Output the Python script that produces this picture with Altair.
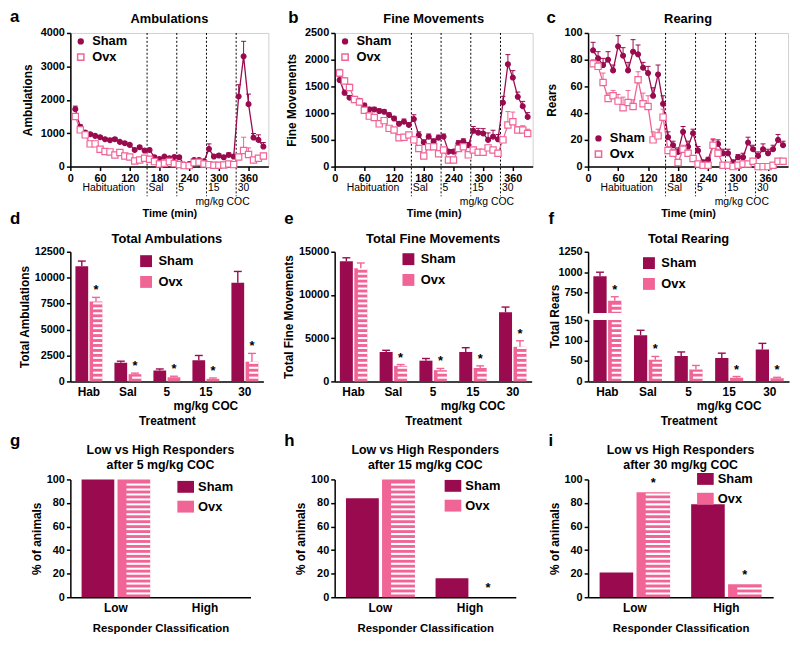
import altair as alt
import pandas as pd

SHAM_C = "#990a4e"
OVX_C = "#f06496"
FONT = "Liberation Sans"
GROUPS = ["Sham", "Ovx"]

# ---------------- time course data (10-min bins) ----------------
time_min = [10, 20, 30, 40, 50, 60, 70, 80, 90, 100, 110, 120, 130, 140, 150,
            160, 170, 180, 190, 200, 210, 220, 230, 240, 250, 260, 270,
            280, 290, 300, 310, 320, 330, 340, 350, 360, 370, 380, 390]
phase_bounds = [155, 215, 275, 335]
phase_labels = ["Habituation", "Sal", "5", "15", "30"]

amb_sham = [1720, 1190, 1020, 970, 920, 880, 820, 790, 820, 740, 700, 650, 500, 580, 480,
            500, 280, 230, 300, 250, 290, 280, 60, 80, 200, 200, 160,
            530, 300, 330, 280, 350, 300, 2100, 3300, 1870, 870, 800, 600]
amb_sham_err = [90, 60, 50, 50, 50, 40, 40, 40, 50, 40, 40, 40, 40, 50, 40,
                40, 40, 30, 30, 30, 30, 30, 20, 20, 30, 30, 30,
                150, 60, 50, 50, 60, 50, 350, 450, 300, 120, 150, 120]
amb_ovx = [1500, 1100, 950, 680, 680, 520, 450, 440, 350, 420, 320, 290, 170, 200, 250,
           220, 150, 80, 100, 150, 90, 60, 30, 30, 120, 130, 80,
           60, 40, 40, 50, 80, 60, 290, 480, 360, 200, 250, 320]
amb_ovx_err = [80, 60, 50, 40, 40, 40, 40, 40, 40, 40, 40, 40, 30, 30, 30,
               30, 30, 20, 20, 20, 20, 20, 10, 10, 20, 20, 20,
               20, 10, 10, 10, 20, 20, 80, 400, 200, 60, 70, 80]

fine_sham = [1620, 1380, 1290, 1260, 1230, 1145, 1070, 1070, 1040, 1025, 965, 900, 800, 840, 780,
             890, 590, 455, 560, 470, 540, 560, 280, 280, 435, 470, 400,
             670, 635, 620, 500, 560, 510, 1195, 1915, 1665, 1305, 1130, 930]
fine_sham_err = [60, 50, 40, 40, 40, 40, 40, 40, 40, 40, 40, 40, 40, 50, 40,
                 80, 60, 40, 50, 50, 50, 50, 40, 40, 50, 50, 50,
                 80, 80, 90, 130, 120, 90, 120, 180, 130, 90, 90, 80]
fine_ovx = [1750, 1600, 1480, 1255, 1210, 1055, 945, 920, 800, 860, 715, 685, 540, 550, 590,
            500, 340, 200, 370, 370, 240, 310, 125, 125, 340, 370, 220,
            310, 270, 270, 350, 310, 250, 500, 780, 840, 685, 685, 620]
fine_ovx_err = [70, 60, 60, 50, 50, 50, 40, 40, 40, 40, 40, 40, 40, 40, 40,
                40, 30, 30, 30, 30, 30, 30, 20, 20, 30, 30, 30,
                50, 40, 40, 50, 40, 40, 60, 250, 180, 60, 80, 80]

rear_sham = [87, 81, 76, 80, 72, 90, 83, 72, 86, 84, 74, 70, 53, 69, 47,
             22, 16, 11, 26, 15, 25, 12, 3, 5, 16, 17, 10,
             10, 3, 7, 7, 18, 13, 8, 13, 10, 13, 20, 16]
rear_sham_err = [6, 5, 5, 6, 4, 8, 6, 6, 9, 7, 4, 5, 6, 7, 6,
                 4, 3, 3, 4, 4, 3, 3, 2, 2, 4, 3, 3,
                 3, 2, 2, 3, 4, 3, 3, 4, 3, 3, 4, 3]
rear_ovx = [77, 75, 63, 51, 53, 49, 44, 48, 45, 65, 47, 45, 20, 23, 37,
            12, 10, 3, 13, 10, 6, 2, 1, 1, 16, 10, 1,
            1, 0, 1, 2, 2, 4, 0, 0, 0, 1, 4, 4]
rear_ovx_err = [3, 3, 7, 4, 4, 5, 8, 9, 5, 6, 8, 8, 6, 5, 6,
                3, 3, 2, 3, 3, 2, 1, 1, 1, 5, 3, 1,
                1, 1, 1, 1, 1, 1, 1, 1, 1, 1, 1, 1]

# ---------------- totals ----------------
treatments = ["Hab", "Sal", "5", "15", "30"]
tot_amb_sham = [11100, 1800, 1050, 2050, 9500]
tot_amb_sham_err = [500, 150, 150, 450, 1100]
tot_amb_ovx = [7700, 700, 400, 250, 1900]
tot_amb_ovx_err = [400, 100, 100, 80, 800]
tot_amb_star = [True, True, True, True, True]

tot_fine_sham = [13900, 3400, 2400, 3400, 8000]
tot_fine_sham_err = [400, 200, 250, 500, 600]
tot_fine_ovx = [13100, 1800, 1300, 1550, 4000]
tot_fine_ovx_err = [600, 150, 200, 250, 700]
tot_fine_star = [False, True, True, True, True]

tot_rear_sham = [950, 113, 62, 57, 78]
tot_rear_sham_err = [50, 12, 10, 12, 15]
tot_rear_ovx = [650, 53, 29, 9, 8]
tot_rear_ovx_err = [50, 8, 10, 3, 2]
tot_rear_star = [True, True, False, True, True]

# ---------------- responders ----------------
resp_classes = ["Low", "High"]
resp5_sham = [100, 0]
resp5_ovx = [100, 0]
resp5_star = [False, False]
resp15_sham = [84, 16]
resp15_ovx = [100, 0]
resp15_star = [False, True]
resp30_sham = [21, 79]
resp30_ovx = [89, 11]
resp30_star = [True, True]

STRIPE_PX = 5.0
LETTER_SIZE = 17


def ax(quant=True, **kw):
    base = dict(labelFont=FONT, labelFontWeight="bold", labelFontSize=11, labelColor="black",
                titleFont=FONT, titleFontWeight="bold", titleFontSize=12, titleColor="black",
                domainColor="black", domainWidth=1.5, tickColor="black", tickWidth=1.5,
                tickSize=4, grid=False, labelPadding=2, labelOverlap=False, labelBound=False,
                labelFlush=False)
    if quant:
        base["format"] = "d"
    base.update(kw)
    return alt.Axis(**base)


def text_layer(txt, x, y, size=13, weight="bold", align="left"):
    return alt.Chart(pd.DataFrame({"txt": [txt]})).mark_text(
        font=FONT, fontSize=size, fontWeight=weight, align=align, baseline="alphabetic",
        color="black").encode(text="txt:N", x=alt.value(x), y=alt.value(y))


def letter_layer(letter, x, y):
    return text_layer(letter, x, y, size=LETTER_SIZE)


def indep(c):
    return c.resolve_scale(color="independent", stroke="independent", fill="independent",
                           shape="independent", size="independent", xOffset="independent"
                           ).resolve_legend(color="independent", stroke="independent",
                                            fill="independent", shape="independent",
                                            size="independent")


def line_panel(letter, lx, ly, ttl, ytitle, sham, sham_err, ovx, ovx_err, ymax, ystep,
               legend_y, width=200, height=135):
    rows = []
    for g, vals, errs in (("Sham", sham, sham_err), ("Ovx", ovx, ovx_err)):
        for t, v, e in zip(time_min, vals, errs):
            rows.append({"time": t, "group": g, "value": v, "top": v + e})
    df = pd.DataFrame(rows)
    xs = alt.Scale(domain=[0, 400], nice=False)
    xaxis = ax(values=[0, 60, 120, 180, 240, 300, 360], title="Time (min)",
               titlePadding=24, titleFontSize=11)
    yaxis = ax(values=list(range(0, ymax + 1, ystep)), title=ytitle, titlePadding=6)
    ysc = alt.Scale(domain=[0, ymax], nice=False)
    X = alt.X("time:Q", scale=xs, axis=xaxis)
    Y = alt.Y("value:Q", scale=ysc, axis=yaxis)
    leg = alt.Legend(title=None, orient="none", legendX=4, legendY=legend_y,
                     labelFont=FONT, labelFontSize=13, labelFontWeight="bold",
                     labelColor="black", symbolStrokeWidth=1.5, rowPadding=2, labelOffset=5)
    stroke = alt.Stroke("group:N", scale=alt.Scale(domain=GROUPS, range=[SHAM_C, OVX_C]),
                        legend=leg)
    base = alt.Chart(df)
    dashed = alt.Chart(pd.DataFrame({"time": phase_bounds})).mark_rule(
        color="black", strokeWidth=1, strokeDash=[2, 2]).encode(
        x=X, y=alt.value(0), y2=alt.value(height + 30))
    line = base.mark_line(strokeWidth=1.3).encode(x=X, y=Y, stroke=stroke)
    err = base.mark_rule(strokeWidth=1).encode(x=X, y=Y, y2="top:Q", stroke=stroke)
    caps = base.mark_point(shape="M-1,0L1,0", size=25, strokeWidth=1, opacity=1).encode(
        x=X, y=alt.Y("top:Q", scale=ysc, axis=yaxis), stroke=stroke)
    pts = base.mark_point(filled=True, strokeWidth=1.2, opacity=1).encode(
        x=X, y=Y, stroke=stroke,
        fill=alt.Fill("group:N", scale=alt.Scale(domain=GROUPS, range=[SHAM_C, "white"]),
                      legend=leg),
        shape=alt.Shape("group:N", scale=alt.Scale(domain=GROUPS, range=["circle", "square"]),
                        legend=leg),
        size=alt.Size("group:N", scale=alt.Scale(domain=GROUPS, range=[24, 40]), legend=leg))
    hab_center = phase_bounds[0] / 2
    lab_df = pd.DataFrame({"time": [hab_center] + [bd + 3 for bd in phase_bounds],
                           "label": phase_labels})
    t1 = alt.Chart(lab_df.iloc[:1]).mark_text(font=FONT, fontSize=10.5, align="center",
                                              baseline="middle", color="black").encode(
        x=X, y=alt.value(height + 22), text="label:N")
    t2 = alt.Chart(lab_df.iloc[1:]).mark_text(font=FONT, fontSize=10.5, align="left",
                                              baseline="middle", color="black").encode(
        x=X, y=alt.value(height + 22), text="label:N")
    mg = alt.Chart(pd.DataFrame({"time": [(phase_bounds[1] + 400) / 2],
                                 "label": ["mg/kg COC"]})).mark_text(
        font=FONT, fontSize=10.5, align="center", baseline="middle", color="black").encode(
        x=X, y=alt.value(height + 36), text="label:N")
    return alt.layer(dashed, line, err, caps, pts, t1, t2, mg,
                     text_layer(ttl, width / 2, -10, align="center"),
                     letter_layer(letter, lx, ly)).properties(
        width=width, height=height, view=alt.ViewBackground(stroke="#cfcfcf", strokeWidth=1))


def bar_frame(cats, sham, sham_err, ovx, ovx_err, stars):
    rows = []
    for cc, v, e in zip(cats, sham, sham_err):
        rows.append({"cat": cc, "group": "Sham", "value": v, "top": v + e, "star": False})
    for cc, v, e, s in zip(cats, ovx, ovx_err, stars):
        rows.append({"cat": cc, "group": "Ovx", "value": v, "top": v + e, "star": s})
    return pd.DataFrame(rows)


def bar_layers(df, cats, ydom, yvals, ytitle, height, legend, xaxis, clip,
               err_filter, star_filter, pi, po, opi, ytitle_kw=None, star_dy=-3,
               cap_size=64, with_err=True):
    period = STRIPE_PX * (ydom[1] - ydom[0]) / height
    X = alt.X("cat:N", scale=alt.Scale(domain=cats, paddingInner=pi, paddingOuter=po),
              axis=xaxis)
    XO = alt.XOffset("group:N", scale=alt.Scale(domain=GROUPS, paddingInner=opi))
    if ytitle is not None:
        yax = ax(values=yvals, title=ytitle, titlePadding=3, **(ytitle_kw or {}))
    else:
        yax = ax(values=yvals, title=None)
    ysc = alt.Scale(domain=ydom, nice=False, zero=False)
    Y = alt.Y("value:Q", scale=ysc, axis=yax, stack=None)
    color = alt.Color("group:N", scale=alt.Scale(domain=GROUPS, range=[SHAM_C, OVX_C]),
                      legend=legend)
    strk = alt.Stroke("group:N", scale=alt.Scale(domain=GROUPS, range=[SHAM_C, OVX_C]),
                      legend=None)
    base = alt.Chart(df)
    bars = base.mark_bar(clip=clip).encode(x=X, xOffset=XO, y=Y, color=color)
    stripes = alt.Chart(df[df["group"] == "Ovx"]).transform_calculate(
        s=f"sequence({period * 0.55}, datum.value - {period * 0.3}, {period})"
    ).transform_flatten(["s"]).transform_calculate(
        s2=f"datum.s + {period * 0.42}"
    ).mark_bar(color="white", clip=clip, width={"band": 0.74}).encode(
        x=X, xOffset=XO, y=alt.Y("s:Q", scale=ysc, axis=yax), y2="s2:Q")
    layers = [bars, stripes]
    if with_err:
        err = base.transform_filter(err_filter).mark_rule(strokeWidth=1.4).encode(
            x=X, xOffset=XO, y=Y, y2="top:Q", stroke=strk)
        caps = base.transform_filter(err_filter).mark_point(
            shape="M-1,0L1,0", size=cap_size, strokeWidth=1.4, opacity=1).encode(
            x=X, xOffset=XO, y=alt.Y("top:Q", scale=ysc, axis=yax), stroke=strk)
        layers += [err, caps]
    stars = base.transform_filter(star_filter).mark_text(
        text="*", font=FONT, fontSize=13, fontWeight="bold", baseline="alphabetic",
        dy=star_dy, color="black").encode(x=X, xOffset=XO,
                                          y=alt.Y("top:Q", scale=ysc, axis=yax))
    layers.append(stars)
    return layers


def bar_legend(lx, ly):
    return alt.Legend(title=None, orient="none", legendX=lx, legendY=ly, symbolType="square",
                      symbolSize=144, symbolStrokeWidth=0, labelFont=FONT, labelFontSize=13,
                      labelFontWeight="bold", labelColor="black", rowPadding=7, labelOffset=6)


def treat_xaxis():
    return ax(quant=False, title="Treatment", labelAngle=0, ticks=False, labelFontSize=12,
              labelPadding=5, titlePadding=19)


def mg_note(height, X):
    return alt.Chart(pd.DataFrame({"cat": ["15"], "label": ["mg/kg COC"]})).mark_text(
        font=FONT, fontSize=12, fontWeight="bold", align="center", baseline="middle",
        color="black").encode(x=X, y=alt.value(height + 25), text="label:N")


def treat_x(xaxis):
    return alt.X("cat:N", scale=alt.Scale(domain=treatments, paddingInner=0.31,
                                          paddingOuter=0.13), axis=xaxis)


def total_panel(ttl, ytitle, sham, sham_err, ovx, ovx_err, stars, ymax,
                ystep, lgx, lgy, width, height=131):
    df = bar_frame(treatments, sham, sham_err, ovx, ovx_err, stars)
    xaxis = treat_xaxis()
    layers = bar_layers(df, treatments, [0, ymax], list(range(0, ymax + 1, ystep)), ytitle,
                        height, bar_legend(lgx, lgy), xaxis, False, "true",
                        "datum.star", 0.31, 0.13, 0.1)
    layers += [mg_note(height, treat_x(xaxis)), text_layer(ttl, width / 2, -9, align="center")]
    return alt.layer(*layers).properties(width=width, height=height)


def rear_panel(width=203):
    df = bar_frame(treatments, tot_rear_sham, tot_rear_sham_err, tot_rear_ovx,
                   tot_rear_ovx_err, tot_rear_star)
    top_layers = bar_layers(df, treatments, [500, 1250], [750, 1000, 1250], None, 62,
                            bar_legend(55, 5), None, True, "datum.value > 150",
                            "datum.star && datum.top > 150", 0.31, 0.13, 0.1)
    top_layers += [text_layer("Total Rearing", width / 2, -9, align="center")]
    top = alt.layer(*top_layers).properties(width=width, height=62)
    xaxis = treat_xaxis()
    bot_layers = bar_layers(df, treatments, [0, 150], [0, 50, 100, 150], "Total Rears", 62,
                            None, xaxis, True, "datum.top <= 150",
                            "datum.star && datum.top <= 150", 0.31, 0.13, 0.1,
                            ytitle_kw={"titleY": -4})
    bot_layers.append(mg_note(62, treat_x(xaxis)))
    bot = alt.layer(*bot_layers).properties(width=width, height=62)
    return indep(alt.vconcat(top, bot, spacing=7, bounds="flush"))


def resp_panel(letter, lx, ly, dose, sham, ovx, stars, lgx, lgy, width, height=119):
    df = bar_frame(resp_classes, sham, [0, 0], ovx, [0, 0], stars)
    leg = alt.Legend(title=None, orient="none", legendX=lgx, legendY=lgy,
                     symbolType="M-1.4,-1L1.4,-1L1.4,1L-1.4,1Z", symbolSize=144,
                     symbolStrokeWidth=0, labelFont=FONT, labelFontSize=13,
                     labelFontWeight="bold", labelColor="black", rowPadding=6, labelOffset=6)
    xaxis = ax(quant=False, title="Responder Classification", labelAngle=0, ticks=False,
               labelFontSize=12, labelPadding=5, titlePadding=10, titleFontSize=11.5)
    layers = bar_layers(df, resp_classes, [0, 100], [0, 20, 40, 60, 80, 100], "% of animals",
                        height, leg, xaxis, False, "false", "datum.star", 0.23, 0.126, 0.09,
                        star_dy=-5, with_err=False)
    layers += [text_layer("Low vs High Responders", width / 2, -26, size=12.5, align="center"),
               text_layer(f"after {dose} mg/kg COC", width / 2, -11, size=12.5, align="center"),
               letter_layer(letter, lx, ly)]
    return alt.layer(*layers).properties(width=width, height=height)


def spacer(w, hh, letter=None, lx=0, ly=0):
    sp = alt.Chart(pd.DataFrame({"v": [0]})).mark_point(opacity=0).encode(
        x=alt.X("v:Q", axis=None), y=alt.Y("v:Q", axis=None))
    if letter is not None:
        sp = alt.layer(sp, letter_layer(letter, lx, ly))
    return sp.properties(width=w, height=hh)


a = line_panel("a", -61, -11, "Ambulations", "Ambulations", amb_sham, amb_sham_err, amb_ovx,
               amb_ovx_err, 4000, 1000, 2)
b = line_panel("b", -47, -10, "Fine Movements", "Fine Movements", fine_sham, fine_sham_err,
               fine_ovx, fine_ovx_err, 2500, 500, 2)
c = line_panel("c", -42, -10, "Rearing", "Rears", rear_sham, rear_sham_err, rear_ovx,
               rear_ovx_err, 100, 20, 100, width=202)

d = total_panel("Total Ambulations", "Total Ambulations", tot_amb_sham,
                tot_amb_sham_err, tot_amb_ovx, tot_amb_ovx_err, tot_amb_star, 12500, 2500,
                70, 3, 195)
e = total_panel("Total Fine Movements", "Total Fine Movements", tot_fine_sham,
                tot_fine_sham_err, tot_fine_ovx, tot_fine_ovx_err, tot_fine_star, 15000, 5000,
                68, 1, 199)
f = rear_panel()

g = resp_panel("g", -61, -34, 5, resp5_sham, resp5_ovx, resp5_star, 110, 1, 182)
h = resp_panel("h", -51, -34, 15, resp15_sham, resp15_ovx, resp15_star, 113, 0, 183)
i = resp_panel("i", -40, -34, 30, resp30_sham, resp30_ovx, resp30_star, 112, -7, 187)

GAP1, GAP2, ROWGAP1, ROWGAP2 = 67, 56, 86, 99
MID_LETTER_Y = ROWGAP1 - 28
cells = [a, spacer(GAP1, 1), b, spacer(GAP2, 1), c]
# letters of the middle row sit in the spacer row just above it
cells += [spacer(1, ROWGAP1, "d", -61, MID_LETTER_Y), spacer(1, ROWGAP1),
          spacer(1, ROWGAP1, "e", -51, MID_LETTER_Y), spacer(1, ROWGAP1),
          spacer(1, ROWGAP1, "f", -40, MID_LETTER_Y)]
cells += [d, spacer(GAP1, 1), e, spacer(GAP2, 1), f]
cells += [spacer(1, ROWGAP2) for _ in range(5)]
cells += [g, spacer(GAP1, 1), h, spacer(GAP2, 1), i]

chart = indep(alt.concat(*cells, columns=5, spacing=0, bounds="flush")).properties(
    padding={"left": 1, "top": -4, "right": 2, "bottom": 2}
).configure(font=FONT).configure_view(stroke="transparent").configure_axis(
    labelOverlap=False, labelBound=False)

chart.save("out.html", embed_options={"renderer": "svg", "actions": False})
